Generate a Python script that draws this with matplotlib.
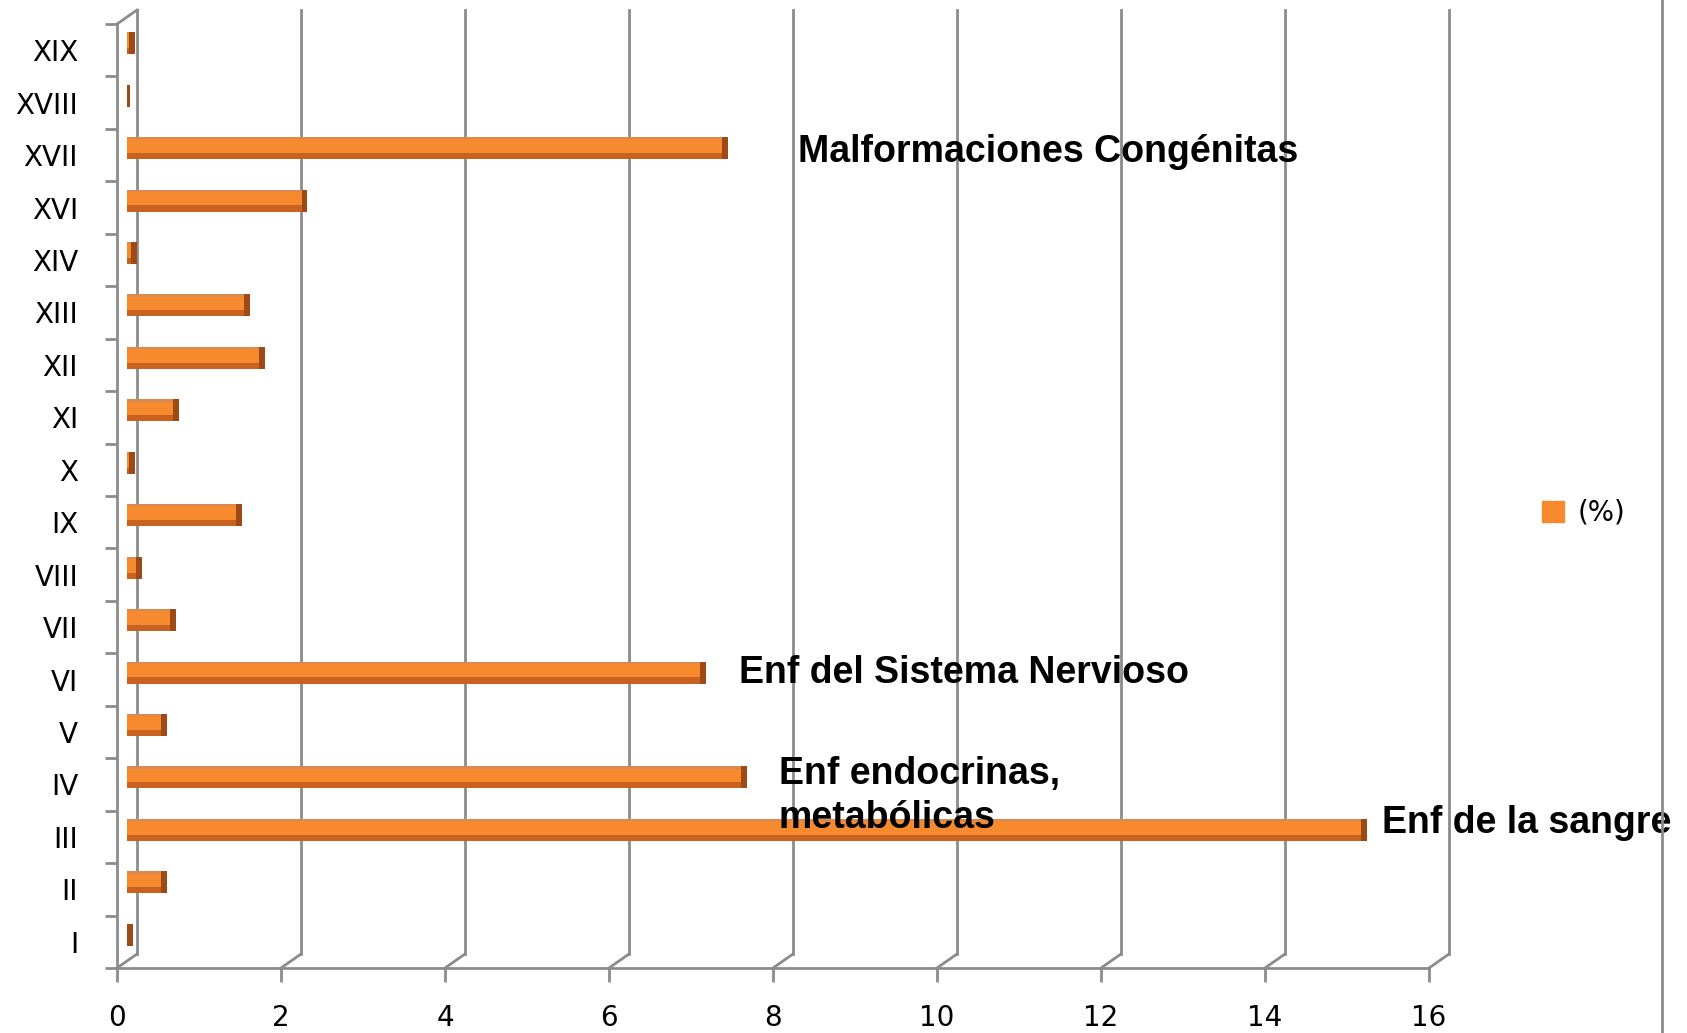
import numpy as np
import matplotlib
matplotlib.use("Agg")
import matplotlib.pyplot as plt
from matplotlib.patches import Patch
from matplotlib.lines import Line2D

# categories (bottom to top) and values in %
categories = ["I", "II", "III", "IV", "V", "VI", "VII", "VIII", "IX", "X",
              "XI", "XII", "XIII", "XIV", "XVI", "XVII", "XVIII", "XIX"]
values = [0.07, 0.49, 15.12, 7.56, 0.49, 7.06, 0.6, 0.18, 1.4, 0.1,
          0.63, 1.68, 1.5, 0.12, 2.2, 7.33, 0.04, 0.1]
xticks = [0, 2, 4, 6, 8, 10, 12, 14, 16]
legend_label = "(%)"

notes = ["Malformaciones Congénitas", "Enf del Sistema Nervioso",
         "Enf endocrinas,\nmetabólicas", "Enf de la sangre"]
note_x = [8.3, 7.59, 8.07, 15.43]
note_y = [14.87, 4.93, 3.55, 2.07]
note_va = ["baseline", "baseline", "top", "baseline"]

ORANGE = "#F7892F"
DARK = "#C9621F"
CAP = "#9E4A16"
GRAY = "#8C8C8C"

# 3D depth offsets in data units
DX, DY = 0.244, 0.267

fig = plt.figure(figsize=(16.87, 10.33), dpi=100)
ax = fig.add_axes([117/1687, 65/1033, 1312/1687, 944/1033])
n = len(categories)
y = np.arange(n)
ax.set_xlim(0, 16)
ax.set_ylim(-0.5, n - 0.5)

# back wall gridlines + floor diagonals
for k in xticks:
    ax.plot([k + DX, k + DX], [-0.5 + DY, n - 0.5 + DY], color=GRAY, lw=2.0,
            clip_on=False, zorder=1)
    ax.plot([k, k + DX], [-0.5, -0.5 + DY], color=GRAY, lw=2.0,
            clip_on=False, zorder=1)
ax.plot([0, DX], [n - 0.5, n - 0.5 + DY], color=GRAY, lw=2.0, clip_on=False, zorder=1)

# bars at mid depth
vals = np.array(values)
x0 = DX / 2
yc = y + DY / 2
h = 0.42
ax.barh(yc, vals, left=x0, height=h, color=ORANGE, zorder=3)
ax.barh(yc - h * 0.36, vals, left=x0, height=h * 0.28, color=DARK, zorder=3)
ax.barh(yc + h * 0.45, vals, left=x0, height=h * 0.1, color="#D98A50", zorder=3)
cap = np.minimum(0.07, vals)
ax.barh(yc, cap, left=x0 + vals - cap, height=h, color=CAP, zorder=4)

# axes styling
for s in ["top", "right"]:
    ax.spines[s].set_visible(False)
for s in ["left", "bottom"]:
    ax.spines[s].set_color(GRAY)
    ax.spines[s].set_linewidth(2.0)
ax.set_xticks(xticks)
ax.set_xticklabels([str(t) for t in xticks])
ax.set_yticks(y)
ax.set_yticklabels(categories)
ax.set_yticks(np.arange(n + 1) - 0.5, minor=True)
ax.tick_params(axis="y", which="major", length=0, pad=28, labelsize=20)
ax.tick_params(axis="y", which="minor", length=9, width=2, color=GRAY)
ax.tick_params(axis="x", length=10, width=2, color=GRAY, pad=16, labelsize=20)
ax.patch.set_alpha(0)

for t, xx, yy, va in zip(notes, note_x, note_y, note_va):
    ax.text(xx, yy, t, ha="left", va=va, fontsize=27, fontweight="bold",
            family="Liberation Sans", linespacing=1.3, zorder=6, clip_on=False)

leg = ax.legend(handles=[Patch(color=ORANGE, label=legend_label)],
                loc="center left", bbox_to_anchor=(1542/1687, 1 - 513/1033),
                bbox_transform=fig.transFigure, frameon=False, fontsize=20,
                handlelength=0.8, handleheight=0.8, handletextpad=0.5,
                borderpad=0, borderaxespad=0)

fig.add_artist(Line2D([1662/1687, 1662/1687], [0, 1], color=GRAY, lw=2.0))

fig.savefig("out.png", dpi=100)
